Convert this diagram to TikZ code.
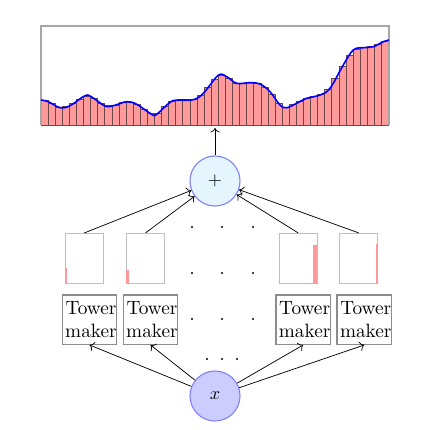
\documentclass[tikz,border=0pt]{standalone}
\usetikzlibrary{arrows.meta}
\definecolor{barfill}{RGB}{255,154,154}
\definecolor{baredge}{RGB}{110,70,70}
\definecolor{plusfill}{RGB}{228,245,253}
\newcommand{\zw}[1]{\makebox[0pt]{\hspace*{1.6pt}#1}}
\begin{document}
\begin{tikzpicture}[x=0.55pt,y=-0.55pt,
  bar/.style={fill=barfill,draw=baredge,line width=0.5pt},
  towerbox/.style={draw=black!25,line width=0.4pt,minimum width=20.9pt,minimum height=27.5pt,inner sep=0pt},
  makerbox/.style={draw=black!45,line width=0.7pt,minimum width=29.9pt,minimum height=27.1pt,inner sep=0pt,align=center,font=\fontsize{10.6}{12.6}\selectfont},
  towerbar/.style={fill=red!40,draw=none},
  opcircle/.style={circle,draw=blue!50,line width=0.6pt,minimum size=27.5pt,inner sep=0pt},
  conn/.style={->,line width=0.4pt},
  dotmark/.style={fill=black,draw=none}
]
\useasboundingbox (0,0) rectangle (440,430);

% histogram chart
\foreach \h [count=\i] in {100.8,103.4,107.0,106.5,103.8,99.0,96.1,98.7,103.5,105.9,105.0,102.9,102.5,104.4,109.1,113.8,113.0,106.6,101.7,100.0,99.8,99.5,95.0,87.9,79.4,75.9,78.3,83.0,83.0,82.8,83.7,87.5,94.0,103.4,107.4,104.9,101.6,98.2,96.4,94.1,89.3,78.5,66.0,55.3,49.2,47.6,46.9,44.2,41.0}{
  \pgfmathsetmacro{\xa}{41+(\i-1)*7.096}
  \pgfmathsetmacro{\xb}{41+\i*7.096}
  \draw[bar] (\xa,125) rectangle (\xb,\h);
}
\draw[black!35,line width=0.6pt] (41,125) -- (41,26) -- (389,26) -- (389,125);
\draw[blue,line width=0.9pt] plot[smooth,tension=0.6] coordinates {(41,100) (48.3,101.7) (60,107.7) (70,105.7) (85,95.7) (91.7,97) (105,106) (113.3,105.7) (126.7,101.7) (136.7,104.3) (151.7,114.3) (156.7,114.3) (170,102.3) (178.3,100) (193.3,99.7) (203.3,93.3) (218.3,75.3) (226.7,76.7) (236.7,83.3) (250,82.7) (260,84) (270,91.7) (280,105) (286.7,107.7) (296.7,103.3) (306.7,98.3) (320,95) (330,88.3) (343.3,65) (353.3,50) (363.3,47.7) (373.3,46.7) (383.3,41.7) (389,40)};
\coordinate (chartbot) at (215,128);

% operator circles
\node[opcircle,fill=plusfill] (plus) at (215,181) {$+$};
\node[opcircle,fill=blue!20] (x) at (215,396) {$x$};

% tower boxes
\node[towerbox] (t1) at (84.3,258.3) {};
\node[towerbox] (t2) at (145.5,258.3) {};
\node[towerbox] (t3) at (298.2,258.3) {};
\node[towerbox] (t4) at (358.8,258.3) {};
\fill[towerbar] (t1.south west) rectangle ++(2.5,-16);
\fill[towerbar] (t2.south west) rectangle ++(3.2,-14);
\fill[towerbar] ([xshift=-0.55pt]t3.south east) rectangle ++(-3.2,-38.3);
\fill[towerbar] ([xshift=-0.3pt]t4.south east) rectangle ++(-2,-40);

% tower makers
\node[makerbox] (m1) at (89.5,319.7) {\zw{Tower}\\\zw{maker}};
\node[makerbox] (m2) at (150.5,319.7) {\zw{Tower}\\\zw{maker}};
\node[makerbox] (m3) at (303.2,319.7) {\zw{Tower}\\\zw{maker}};
\node[makerbox] (m4) at (364.3,319.7) {\zw{Tower}\\\zw{maker}};

% dots
\foreach \yy in {227,273,319}{
  \foreach \xx in {192,222,253}{
    \fill[dotmark] (\xx,\yy) circle (1.1);
  }
}
\foreach \xx in {207,222,237}{
  \fill[dotmark] (\xx,359) circle (1.1);
}

% connectors
\draw[conn] (plus) -- (chartbot);
\foreach \t in {t1,t2,t3,t4}{
  \draw[conn] (\t.north) -- (plus);
}
\foreach \m in {m1,m2,m3,m4}{
  \draw[conn] (x) -- (\m.south);
}
\end{tikzpicture}
\end{document}
